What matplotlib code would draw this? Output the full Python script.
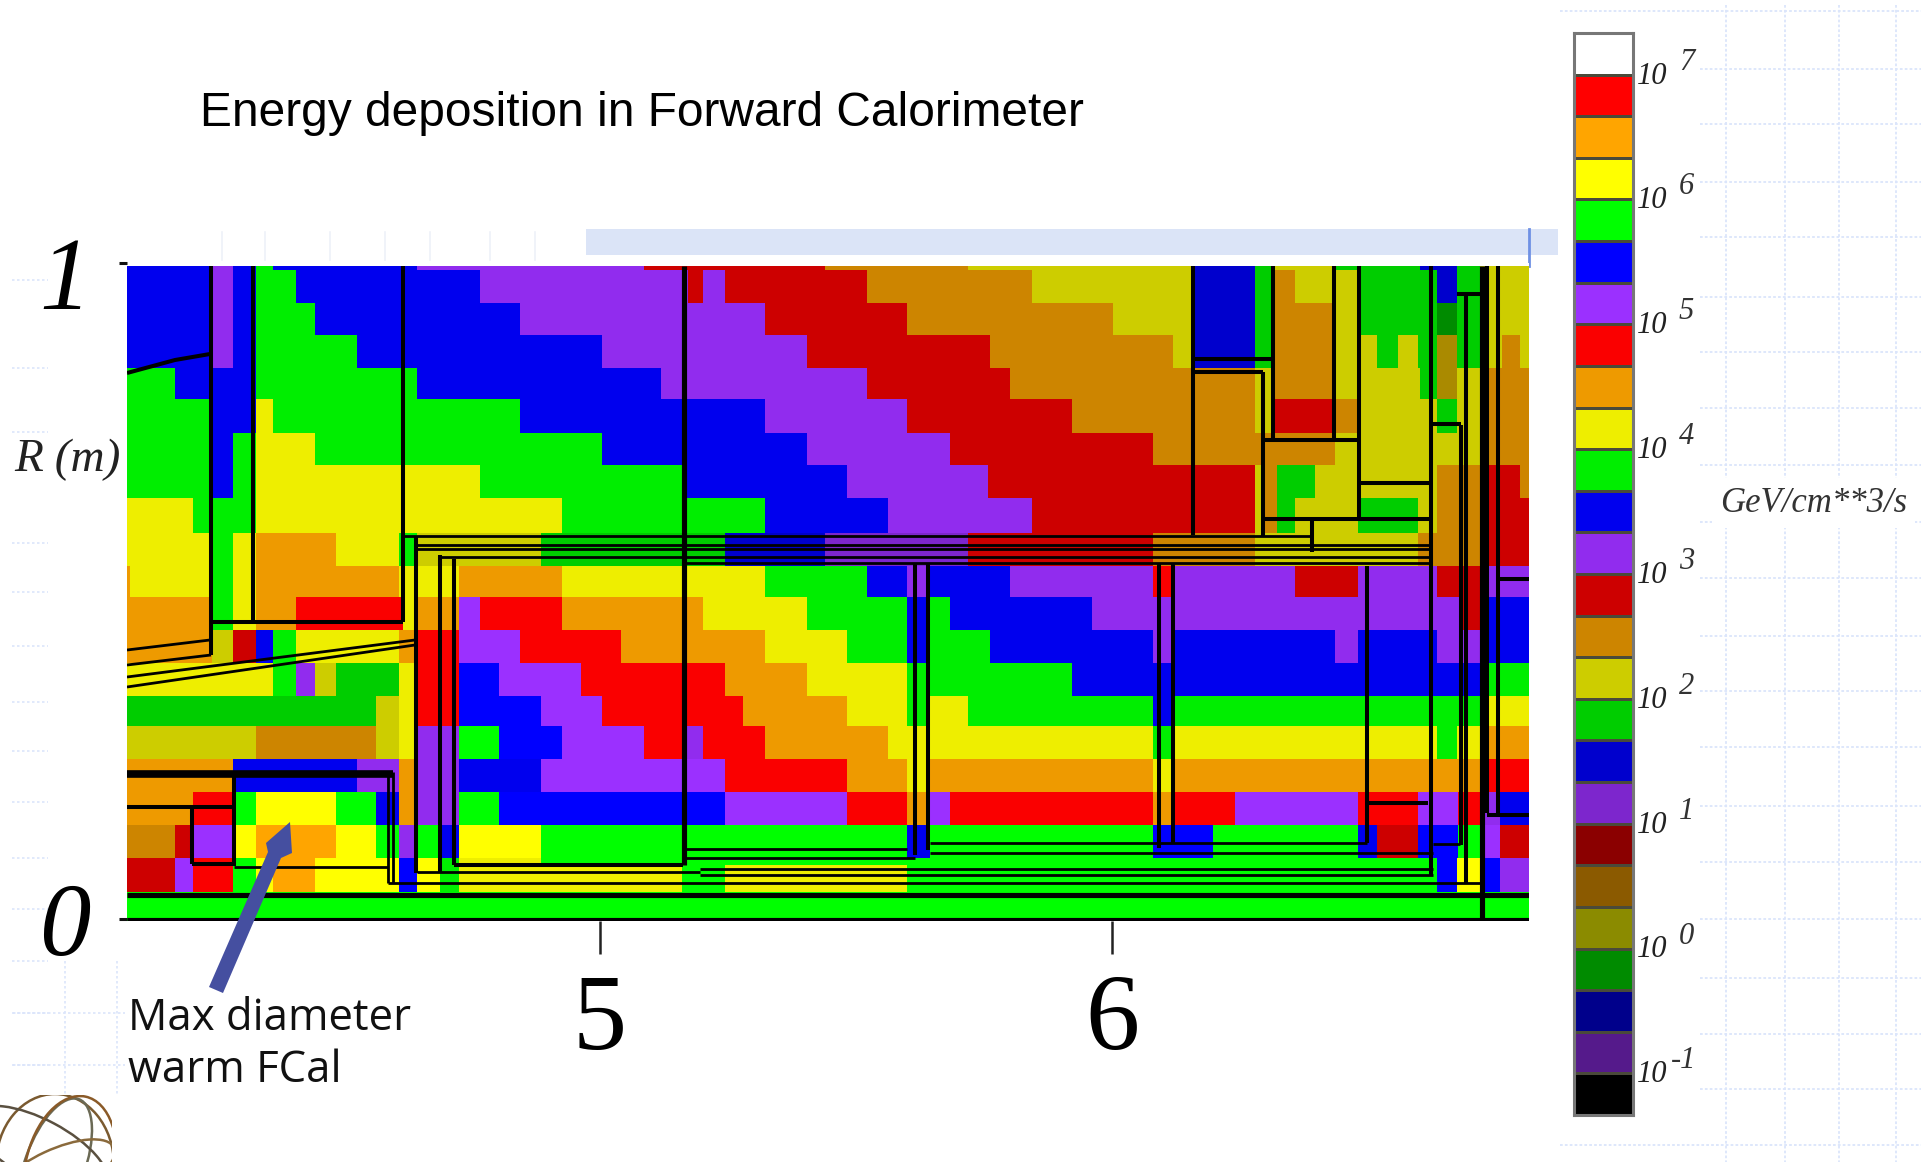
import numpy as np
import matplotlib
matplotlib.use("Agg")
import matplotlib.pyplot as plt
from matplotlib.colors import ListedColormap
from matplotlib.patches import Ellipse, Rectangle, Polygon
from matplotlib.transforms import ScaledTranslation

W, H = 1921, 1162

# colour scale, bottom to top (X11 ramps used by the original code)
level_names = ['K','P4','B4','G4','Y4','O4','R4','P3','B3','G3','Y3','O3','R3',
               'P2','B2','G2','Y2','O2','R2','P1','B1','G1','Y1','O1','R1','W']
level_colors = ['#000000','#551a8b','#00008b','#008b00','#8b8b00','#8b5a00','#8b0000',
                '#7d26cd','#0000cd','#00cd00','#cdcd00','#cd8500','#cd0000',
                '#912cee','#0000ee','#00ee00','#eeee00','#ee9a00','#fa0000',
                '#9b30ff','#0000ff','#00ff00','#ffff00','#ffa500','#ff0000','#ffffff']
extra_names = ['X1']
extra_colors = ['#aa8a00']
exponents = ['-1','0','1','2','3','4','5','6','7']

# cell map: z is read in picture columns, R in picture rows (converted by the axes helpers)
row_edges = [266,270,303,335,368,399,433,465,498,533,566,597,630,663,696,726,759,792,825,858,865,892,921]
row_runs = [
 [(212,'B2'),(233,'P2'),(256,'B2'),(273,'G2'),(417,'B2'),(644,'P2'),(825,'R3'),(968,'O3'),(1193,'Y3'),(1255,'B3'),(1272,'G3'),(1335,'Y3'),(1420,'G3'),(1457,'B3'),(1480,'G3'),(1529,'Y3')],
 [(212,'B2'),(233,'P2'),(256,'B2'),(296,'G2'),(480,'B2'),(688,'P2'),(703,'R3'),(725,'P2'),(867,'R3'),(1032,'O3'),(1193,'Y3'),(1255,'B3'),(1275,'G3'),(1295,'O3'),(1358,'Y3'),(1437,'G3'),(1457,'B3'),(1480,'G3'),(1529,'Y3')],
 [(212,'B2'),(233,'P2'),(256,'B2'),(315,'G2'),(520,'B2'),(765,'P2'),(907,'R3'),(1113,'O3'),(1193,'Y3'),(1255,'B3'),(1275,'G3'),(1335,'O3'),(1358,'Y3'),(1437,'G3'),(1457,'G4'),(1480,'G3'),(1529,'Y3')],
 [(212,'B2'),(233,'P2'),(256,'B2'),(357,'G2'),(602,'B2'),(807,'P2'),(990,'R3'),(1173,'O3'),(1193,'Y3'),(1255,'B3'),(1275,'G3'),(1335,'O3'),(1377,'Y3'),(1398,'G3'),(1418,'Y3'),(1437,'G3'),(1457,'X1'),(1480,'G3'),(1502,'Y3'),(1520,'O3'),(1529,'Y3')],
 [(175,'G2'),(256,'B2'),(417,'G2'),(661,'B2'),(867,'P2'),(1010,'R3'),(1255,'O3'),(1275,'Y3'),(1335,'O3'),(1420,'Y3'),(1437,'G3'),(1457,'X1'),(1488,'Y3'),(1529,'O3')],
 [(212,'G2'),(256,'B2'),(273,'Y2'),(520,'G2'),(765,'B2'),(907,'P2'),(1072,'R3'),(1255,'O3'),(1275,'Y3'),(1335,'R3'),(1358,'O3'),(1437,'Y3'),(1457,'G3'),(1488,'Y3'),(1529,'O3')],
 [(212,'G2'),(233,'B2'),(256,'G2'),(315,'Y2'),(602,'G2'),(807,'B2'),(950,'P2'),(1153,'R3'),(1335,'O3'),(1488,'Y3'),(1529,'O3')],
 [(212,'G2'),(233,'B2'),(256,'G2'),(480,'Y2'),(682,'G2'),(847,'B2'),(988,'P2'),(1255,'R3'),(1262,'Y3'),(1277,'O3'),(1315,'G3'),(1437,'Y3'),(1480,'O3'),(1520,'R3'),(1529,'O3')],
 [(193,'Y2'),(256,'G2'),(562,'Y2'),(765,'G2'),(888,'B2'),(1032,'P2'),(1255,'R3'),(1262,'Y3'),(1277,'O3'),(1295,'G3'),(1358,'Y3'),(1418,'G3'),(1437,'Y3'),(1480,'O3'),(1529,'R3')],
 [(212,'Y2'),(233,'G2'),(256,'Y2'),(336,'O2'),(399,'Y2'),(417,'G2'),(541,'Y3'),(725,'G3'),(825,'B3'),(968,'P3'),(1153,'R3'),(1255,'O3'),(1418,'Y3'),(1480,'O3'),(1529,'R3')],
 [(130,'O2'),(212,'Y2'),(233,'G2'),(256,'Y2'),(399,'O2'),(459,'Y2'),(562,'O2'),(765,'Y2'),(867,'G2'),(907,'B2'),(928,'P2'),(1010,'B2'),(1153,'P2'),(1172,'R2'),(1295,'P2'),(1358,'R3'),(1437,'P2'),(1480,'R3'),(1529,'P2')],
 [(212,'O2'),(233,'G2'),(256,'Y2'),(296,'O2'),(403,'R2'),(417,'Y2'),(459,'O2'),(480,'P1'),(562,'R2'),(703,'O2'),(807,'Y2'),(907,'G2'),(930,'B2'),(950,'G2'),(1092,'B2'),(1462,'P2'),(1480,'R3'),(1529,'B2')],
 [(212,'O2'),(233,'Y3'),(256,'R3'),(273,'B2'),(296,'G2'),(399,'Y2'),(417,'O2'),(459,'R2'),(520,'P1'),(621,'R2'),(765,'O2'),(847,'Y2'),(907,'G2'),(930,'B2'),(990,'G2'),(1153,'B2'),(1172,'P2'),(1335,'B2'),(1358,'P2'),(1437,'B2'),(1480,'P2'),(1529,'B2')],
 [(273,'Y2'),(296,'G2'),(315,'P2'),(336,'Y3'),(399,'G3'),(417,'Y2'),(459,'R2'),(499,'B1'),(581,'P1'),(725,'R2'),(807,'O2'),(907,'Y2'),(1072,'G2'),(1483,'B2'),(1529,'G2')],
 [(376,'G3'),(399,'Y3'),(417,'Y2'),(459,'R2'),(541,'B1'),(602,'P1'),(743,'R2'),(847,'O2'),(907,'Y2'),(930,'G2'),(968,'Y2'),(1153,'G2'),(1173,'B2'),(1483,'G2'),(1529,'Y2')],
 [(256,'Y3'),(376,'O3'),(399,'Y3'),(417,'Y2'),(459,'P2'),(499,'G1'),(562,'B1'),(644,'P1'),(682,'R2'),(703,'P2'),(765,'R2'),(888,'O2'),(1153,'Y2'),(1173,'G2'),(1437,'Y2'),(1457,'G2'),(1480,'Y2'),(1529,'O2')],
 [(233,'O2'),(357,'B2'),(399,'P2'),(417,'O2'),(459,'P2'),(541,'B2'),(725,'P1'),(847,'R2'),(907,'O2'),(930,'Y2'),(1153,'O2'),(1172,'Y2'),(1480,'O2'),(1529,'R2')],
 [(193,'O2'),(233,'R2'),(256,'G1'),(336,'Y1'),(376,'G1'),(399,'B2'),(417,'O2'),(459,'P2'),(499,'G1'),(725,'B1'),(847,'P1'),(907,'R2'),(930,'O2'),(950,'P1'),(1153,'R2'),(1172,'O2'),(1235,'R2'),(1358,'P1'),(1418,'R2'),(1458,'P1'),(1480,'R2'),(1500,'P2'),(1529,'B2')],
 [(175,'O3'),(193,'R3'),(233,'P1'),(256,'Y1'),(336,'O1'),(376,'Y1'),(399,'G1'),(417,'P2'),(440,'G1'),(459,'B2'),(541,'Y1'),(907,'G1'),(930,'B2'),(1153,'G1'),(1213,'B1'),(1358,'G1'),(1377,'B2'),(1418,'R3'),(1458,'B1'),(1480,'G1'),(1500,'P1'),(1529,'R3')],
 [(175,'R3'),(193,'P1'),(233,'R2'),(256,'G1'),(273,'Y1'),(315,'O1'),(399,'Y1'),(417,'B1'),(440,'Y1'),(459,'G2'),(541,'Y2'),(1437,'G1'),(1457,'B1'),(1480,'Y1'),(1500,'B1'),(1529,'P2')],
 [(175,'R3'),(193,'P1'),(233,'R2'),(256,'G1'),(273,'Y1'),(315,'O1'),(399,'Y1'),(417,'B1'),(440,'Y1'),(459,'G2'),(682,'Y2'),(725,'G1'),(907,'Y2'),(1437,'G1'),(1457,'B1'),(1480,'Y1'),(1500,'B1'),(1529,'P2')],
 [(1529,'G1')],
]

# detector outlines, same picture units: (x0, y0, x1, y1, ...)
outline_thick = [
 (211,266,211,655),(253,266,253,622),(211,622,403,622),(402.5,266,402.5,622),
 (1193,266,1193,535),(1193,359,1272,359),(1193,372,1263,372),
 (1263,372,1263,537),(1273,266,1273,440),(1263,440,1358,440),(1334,266,1334,440),
 (1359,266,1359,520),(1359,483,1430,483),(1265,519,1430,519),(1312,520,1312,552),
 (1431,266,1431,875),(1433,424,1461,424),(1461,425,1461,845),(1466,293,1466,883),
 (1457,294,1480,294),(1487,266,1487,813),(1498,266,1498,813),(1487,815,1529,815),
 (1498,579,1529,579),(1367,566,1367,843),(1367,803,1428,803),(915,563,915,855),
 (928,563,928,850),(1159,563,1159,848),(1173,563,1173,843),
 (234,774,234,866),(191.5,807,191.5,864),(191.5,864,234,864),(127,807,234,807),
 (415.5,537,415.5,873),(440,555,440,872),(454,559,454,865),(454,865,683,865),
 (127,373,175,360,210,354),
]
outline_thin = [
 (127,650,210,640),(127,665,211,655),(127,677,415,640),(127,687,415,645),
 (402,536,1310,536),(415,545,1430,545),(415,549,1430,549),(440,557,1430,557),(683,563,1430,563),
 (234,867,388,867),(388,772,388,883),(393,772,393,883),
 (683,849,907,849),(683,858,915,858),(417,872,700,872),(388,883,1480,883),
 (930,843,1367,843),(930,853,1433,853),(700,869,1433,869),(700,875,1433,875),(1433,844,1460,844),
]
outline_heavy = [(127,895,1529,895),(1482,266,1482,920),(127,920,1529,920),(683.7,266,683.7,865)]
outline_bar = [(127,774,393,774)]

def Z(px):
    return 5 + (np.asarray(px, float) - 600) / 512
def RR(py):
    return (919 - np.asarray(py, float)) / (919 - 263)

names = level_names + extra_names
colors = level_colors + extra_colors
cmap = ListedColormap(colors)

# ---------- figure ----------
fig = plt.figure(figsize=(W / 100, H / 100), dpi=100, facecolor='white')

def box(x0, y0, x1, y1):
    return [x0 / W, 1 - y1 / H, (x1 - x0) / W, (y1 - y0) / H]

# decoration layer beneath, in picture units
bg = fig.add_axes([0, 0, 1, 1], zorder=0)
bg.set_xlim(0, W); bg.set_ylim(H, 0); bg.axis('off')
pale = '#dbe5fb'
for y in [69,124,182,237,297,352,408,465,522,578,636,691,747,806,862,919,978,1034,1089]:
    bg.plot([1700, W], [y, y], color=pale, lw=1.3, ls=(0, (1.5, 1.2)))
for y in [11, 1145]:
    bg.plot([1560, W], [y, y], color=pale, lw=1.3, ls=(0, (1.5, 1.2)))
for x in [1726, 1785, 1839, 1896]:
    bg.plot([x, x], [5, 1162], color=pale, lw=1.3, ls=(0, (1.5, 1.2)))
for y in [280,368,432,543,592,646,702,751,802,858,909,961,1013,1065]:
    bg.plot([12, 48], [y, y], color=pale, lw=1.2, ls=(0, (1.5, 1.5)))
for x in [65, 117]:
    bg.plot([x, x], [961, 1095], color=pale, lw=1.2, ls=(0, (1.5, 1.5)))
bg.plot([13, 125], [1013, 1013], color=pale, lw=1.2, ls=(0, (1.5, 1.5)))
bg.plot([13, 125], [1065, 1065], color=pale, lw=1.2, ls=(0, (1.5, 1.5)))
bg.add_patch(Rectangle((586, 229), 972, 26, facecolor='#dbe4f7', edgecolor='none'))
bg.plot([1529, 1529], [229, 266], color='#6f90e4', lw=2)
for x in [222, 265, 330, 385, 430, 490, 535]:
    bg.plot([x, x], [232, 260], color='#eef1f8', lw=1.2)

clip = Rectangle((0, 1095), 112, 67, transform=bg.transData)
for (cx, cy, w, h, a, c) in [(55, 1165, 118, 142, 0, '#7a5a30'), (55, 1165, 60, 140, 20, '#6b6a55'),
                             (40, 1150, 150, 60, 28, '#5a5040'), (55, 1175, 130, 50, -25, '#8a6a3c'),
                             (70, 1170, 90, 150, 12, '#8a5a28')]:
    e = Ellipse((cx, cy), w, h, angle=a, fill=False, edgecolor=c, lw=1.8)
    bg.add_patch(e)
    e.set_clip_path(clip)

# main panel
ax = fig.add_axes(box(127, 263, 1529, 921), zorder=2)
ax.set_xlim(Z(127), Z(1529))
ax.set_ylim(RR(921), RR(263))

col_edges = sorted({127.0} | {float(e) for row in row_runs for e, _ in row})
grid = np.zeros((len(row_runs), len(col_edges) - 1), dtype=int)
centres = 0.5 * (np.array(col_edges[:-1]) + np.array(col_edges[1:]))
for i, row in enumerate(row_runs):
    ends = np.array([e for e, _ in row], float)
    codes = [names.index(c) for _, c in row]
    for j, c in enumerate(centres):
        grid[i, j] = codes[min(np.searchsorted(ends, c), len(codes) - 1)]
ax.pcolormesh(Z(col_edges), RR(row_edges), grid, cmap=cmap, vmin=-0.5, vmax=len(names) - 0.5,
              shading='flat', antialiased=False)

for group, lw in ((outline_thin, 2.0), (outline_thick, 2.9), (outline_heavy, 3.7), (outline_bar, 5.5)):
    for seg in group:
        xs, ys = seg[0::2], seg[1::2]
        ax.plot(Z(xs), RR(ys), color='black', lw=lw, solid_capstyle='butt', zorder=3)

for s in ax.spines.values():
    s.set_visible(False)
ax.set_xticks([5, 6], labels=['5', '6'])
ax.set_yticks([0, 1], labels=['0', '1'])
ax.tick_params(axis='x', length=24, width=1.8, pad=14, labelsize=78, color='#222222')
ax.tick_params(axis='y', length=6, width=2.2, pad=20, labelsize=74, color='#111111')
for t in ax.get_xticklabels() + ax.get_yticklabels():
    t.set_family('Liberation Serif')
for t in ax.get_yticklabels():
    t.set_style('italic')
one = ax.get_yticklabels()[1]
one.set_transform(one.get_transform() + ScaledTranslation(0, -0.10, fig.dpi_scale_trans))

# colour scale
cb = fig.add_axes(box(1574, 33, 1633, 1115), zorder=2)
log_edges = (np.arange(len(level_names) + 1) - 4) / 3
cb.pcolormesh([0, 1], log_edges, np.arange(len(level_names)).reshape(-1, 1),
              cmap=ListedColormap(level_colors), edgecolors='#4a4a3a', linewidth=1.0)
cb.set_xlim(0, 1); cb.set_ylim(log_edges[0], log_edges[-1])
cb.set_xticks([]); cb.set_yticks([])
for s in cb.spines.values():
    s.set_color('#777777'); s.set_linewidth(2.2)
for e in exponents:
    v = float(e)
    cb.annotate('10', (1, v), xytext=(3, -1), xycoords=('axes fraction', 'data'), textcoords='offset points',
                family='Liberation Serif', style='italic', fontsize=22, va='center', ha='left', color='#222222')
    cb.annotate(e, (1, v), xytext=(33 if e != '-1' else 27, 9), xycoords=('axes fraction', 'data'), textcoords='offset points',
                family='Liberation Serif', style='italic', fontsize=22, va='center', ha='left', color='#333333')

# texts on top
top = fig.add_axes([0, 0, 1, 1], zorder=5)
top.set_xlim(0, W); top.set_ylim(H, 0); top.axis('off'); top.patch.set_alpha(0)
top.text(200, 113, 'Energy deposition in Forward Calorimeter', family='Liberation Sans',
         fontsize=34.5, va='center', ha='left', color='black')
top.text(14, 460, 'R (m)', family='Liberation Serif', style='italic', fontsize=34, va='center', ha='left', color='#222222')
top.text(1720, 503, 'GeV/cm**3/s', family='Liberation Serif', style='italic', fontsize=25, va='center', ha='left',
         color='#333333', bbox=dict(facecolor='white', edgecolor='none', pad=6))
top.text(128, 1019, 'Max diameter', family='Open Sans', fontsize=31.5, va='center', ha='left', color='#111111')
top.text(128, 1071, 'warm FCal', family='Open Sans', fontsize=31.5, va='center', ha='left', color='#111111')
top.add_patch(Polygon([(209, 987), (223, 993), (281, 858), (292, 853), (290, 822), (266, 843), (268, 852)],
                      closed=True, facecolor='#454fa0', edgecolor='none'))

fig.savefig('out.png', dpi=100)
